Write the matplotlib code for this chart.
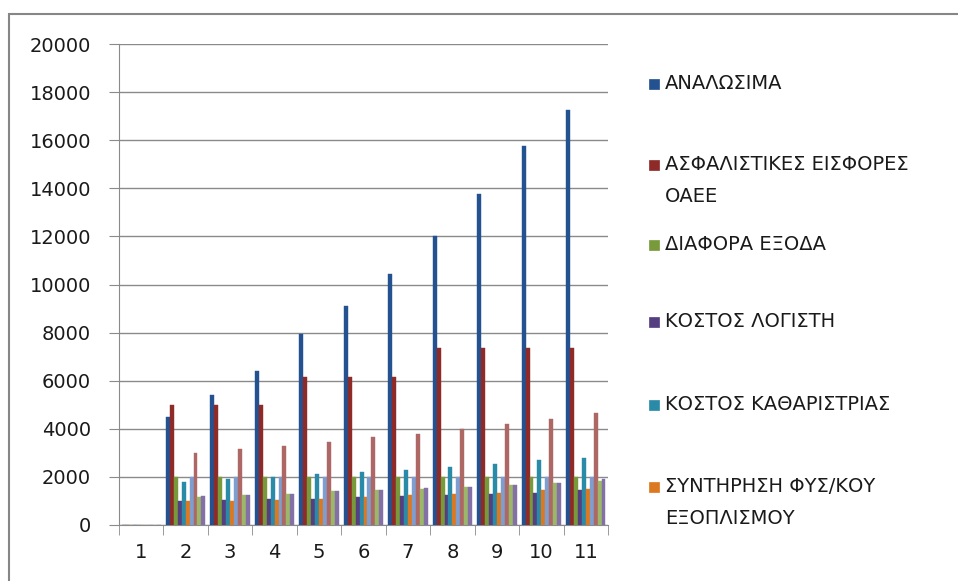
"""
Grouped column chart of yearly expenses per category (Excel-style look).
"""

import matplotlib
matplotlib.use("Agg")
import matplotlib.pyplot as plt
from matplotlib.patches import Rectangle
import numpy as np

plt.rcParams["font.family"] = ["DejaVu Sans"]

# Categories on the x axis (1 has no values)
years = [1, 2, 3, 4, 5, 6, 7, 8, 9, 10, 11]

# Series values
analosima = [0, 4500, 5400, 6400, 7950, 9100, 10450, 12000, 13750, 15750, 17250]
asfalistikes = [0, 5000, 5000, 5000, 6150, 6150, 6150, 7350, 7350, 7350, 7350]
diafora = [0, 2000, 2000, 2000, 2000, 2000, 2000, 2000, 2000, 2000, 2000]
logistis = [0, 1000, 1050, 1100, 1100, 1150, 1200, 1250, 1300, 1350, 1450]
katharistria = [0, 1800, 1900, 2000, 2100, 2200, 2300, 2400, 2550, 2700, 2800]
syntirisi = [0, 1000, 1000, 1050, 1100, 1150, 1250, 1300, 1350, 1450, 1500]
series7 = [0, 2000, 2000, 2000, 2000, 2000, 2000, 2000, 2000, 2000, 2000]
series8 = [0, 3000, 3150, 3300, 3450, 3650, 3800, 4000, 4200, 4400, 4650]
series9 = [0, 1150, 1250, 1300, 1400, 1450, 1500, 1600, 1650, 1750, 1850]
series10 = [0, 1200, 1250, 1300, 1400, 1450, 1550, 1600, 1650, 1750, 1900]

labels = [
    "ΑΝΑΛΩΣΙΜΑ",
    "ΑΣΦΑΛΙΣΤΙΚΕΣ ΕΙΣΦΟΡΕΣ\nΟΑΕΕ",
    "ΔΙΑΦΟΡΑ ΕΞΟΔΑ",
    "ΚΟΣΤΟΣ ΛΟΓΙΣΤΗ",
    "ΚΟΣΤΟΣ ΚΑΘΑΡΙΣΤΡΙΑΣ",
    "ΣΥΝΤΗΡΗΣΗ ΦΥΣ/ΚΟΥ\nΕΞΟΠΛΙΣΜΟΥ",
]

colors = ["#245290", "#8e2b29", "#789a3a", "#553f80", "#2a8ba8",
          "#dc7820", "#7f9ed0", "#ad6866", "#9cb768", "#8370a6"]

all_series = [analosima, asfalistikes, diafora, logistis, katharistria,
              syntirisi, series7, series8, series9, series10]

fig = plt.figure(figsize=(9.58, 5.81), dpi=100)
ax = fig.add_axes([0.1242, 0.0964, 0.5105, 0.8278])

x = np.array(years, dtype=float)
n = len(all_series)
w = 0.0885
for i, (vals, c) in enumerate(zip(all_series, colors)):
    ax.bar(x + (i - (n - 1) / 2) * w, vals, width=w, color=c,
           edgecolor=c, linewidth=0.3, zorder=3)

ax.set_xlim(0.5, 11.5)
ax.set_ylim(0, 20000)
ax.set_yticks(np.arange(0, 20001, 2000))
ax.set_xticks(years)
ax.set_xticks(np.arange(0.5, 11.6, 1), minor=True)

ax.grid(axis="y", color="#8a8a8a", linewidth=1.0, zorder=0)
for s in ["top", "right"]:
    ax.spines[s].set_visible(False)
ax.spines["left"].set_color("#8a8a8a")
ax.spines["bottom"].set_color("#8a8a8a")

ax.tick_params(axis="y", length=7, color="#8a8a8a", pad=13, labelsize=14,
               labelcolor="#1a1a1a")
ax.tick_params(axis="x", which="major", length=0, pad=13, labelsize=14,
               labelcolor="#1a1a1a")
ax.tick_params(axis="x", which="minor", length=7, color="#8a8a8a")

# legend drawn by hand so the first line of each entry lines up like Excel
leg_y = [84, 165, 245, 322, 405, 487]
for lab, c, yy in zip(labels, colors[:6], leg_y):
    yf = 1 - yy / 581
    fig.patches.append(Rectangle((649 / 958, yf - 5 / 581), 10 / 958, 10 / 581,
                                 transform=fig.transFigure, facecolor=c,
                                 edgecolor=c, linewidth=0.5))
    fig.text(665 / 958, yf + 10 / 581, lab, fontsize=14, va="top", ha="left",
             linespacing=1.88, color="#1a1a1a")

# outer chart border
fig.patches.append(Rectangle((9 / 958, -0.05), 1.2, 1 - 14 / 581 + 0.05,
                             transform=fig.transFigure, facecolor="none",
                             edgecolor="#868686", linewidth=1.5))

fig.savefig("out.png", dpi=100)
